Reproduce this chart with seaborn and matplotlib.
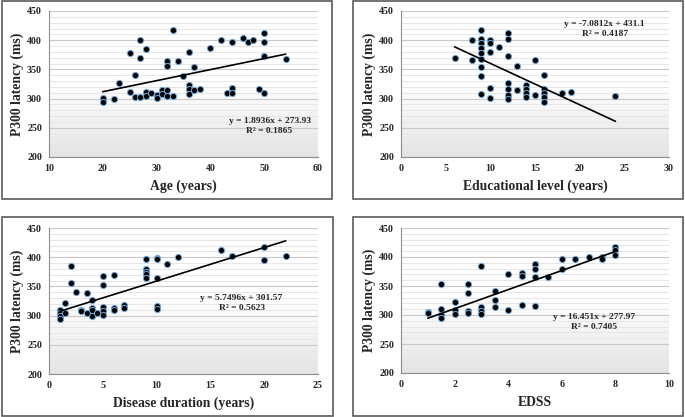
import numpy as np
import pandas as pd
import matplotlib
matplotlib.use('Agg')
import matplotlib.pyplot as plt
from matplotlib.colors import LinearSegmentedColormap
from matplotlib.patches import Rectangle
import seaborn as sns

# ── Data ────────────────────────────────────────────────────
age = [20, 20, 22, 23, 25, 25, 26, 26, 27, 27, 27, 28, 28, 28, 29, 30, 30, 31, 31,
       32, 32, 32, 32, 33, 33, 34, 35, 36, 36, 36, 36, 37, 37, 38, 40, 42, 43, 44,
       44, 44, 46, 47, 48, 49, 50, 50, 50, 50, 54]
p300_age = [301, 295, 299, 327, 378, 311, 341, 302, 400, 370, 302, 385, 311, 305, 310,
            306, 301, 314, 308, 365, 355, 314, 305, 417, 305, 365, 339, 379, 323, 316,
            308, 354, 314, 316, 387, 400, 310, 397, 319, 310, 403, 397, 401, 316, 413,
            397, 373, 310, 368]

edu = [6, 8, 8, 9, 9, 9, 9, 9, 9, 9, 9, 9, 10, 10, 10, 10, 10, 11, 12, 12, 12, 12, 12,
       12, 12, 13, 13, 14, 14, 14, 14, 15, 15, 16, 16, 16, 16, 16, 18, 19, 24]
p300_edu = [370, 400, 366, 417, 402, 396, 386, 378, 367, 354, 338, 308, 400, 396, 380,
            319, 301, 388, 413, 402, 373, 327, 317, 307, 299, 356, 314, 323, 317, 310,
            302, 366, 306, 341, 316, 310, 302, 295, 310, 312, 305]

dur = [1, 1, 1, 1, 1.5, 1.5, 2, 2, 2.5, 3, 3, 3.5, 3.5, 4, 4, 4, 4, 4.5, 5, 5, 5, 5, 5,
       6, 6, 6, 7, 7, 9, 9, 9, 9, 9, 10, 10, 10, 10, 10, 11, 12, 16, 17, 20, 20, 22]
p300_dur = [309, 304, 299, 294, 321, 304, 385, 355, 340, 310, 308, 338, 304, 326, 313,
            309, 299, 304, 367, 352, 315, 308, 301, 369, 313, 309, 318, 313, 397, 380,
            375, 371, 365, 399, 397, 365, 316, 312, 388, 400, 412, 402, 417, 396, 402]

edss = [1, 1, 1.5, 1.5, 1.5, 1.5, 2, 2, 2, 2.5, 2.5, 2.5, 2.5, 3, 3, 3, 3, 3.5, 3.5, 3.5,
        4, 4, 4.5, 4.5, 4.5, 5, 5, 5, 5, 5.5, 6, 6, 6.5, 7, 7.5, 7.5, 8, 8, 8]
p300_edss = [306, 303, 354, 311, 300, 294, 322, 309, 301, 353, 338, 307, 303, 385, 314,
             307, 302, 341, 326, 314, 370, 309, 373, 367, 318, 388, 379, 365, 315, 365,
             397, 379, 397, 400, 400, 396, 417, 412, 403]

# trendline coefficients as printed on the chart
slopes = [1.8936, -7.0812, 5.7496, 16.451]
intercepts = [273.93, 431.1, 301.57, 277.97]
r2_values = ['0.1865', '0.4187', '0.5623', '0.7405']
eq_texts = ['y = 1.8936x + 273.93', 'y = -7.0812x + 431.1',
            'y = 5.7496x + 301.57', 'y = 16.451x + 277.97']
x_labels = ['Age (years)', 'Educational level (years)',
            'Disease duration (years)', 'EDSS']
x_ticks = [np.arange(10, 61, 10), np.arange(0, 31, 5),
           np.arange(0, 26, 5), np.arange(0, 11, 2)]
y_ticks = np.arange(200, 451, 50)

# ── Style ───────────────────────────────────────────────────
sns.set_style('white')
plt.rcParams['font.family'] = ['Liberation Serif', 'DejaVu Serif']
plt.rcParams['font.weight'] = 'bold'

W, H = 685, 417
fig = plt.figure(figsize=(W / 100, H / 100), dpi=100)
fig.patch.set_facecolor('white')

# axes boxes in pixels: (left, right, top, bottom)
ax_px = [(49, 318, 11, 157), (401, 669, 11, 157),
         (49, 318, 228, 374), (401, 669, 228, 373)]
# outer panel frames in pixels
frame_px = [(2, 332, 1, 199), (353, 683, 1, 199),
            (2, 333, 217, 416), (353, 683, 217, 416)]
# text anchor (data coords)
eq_pos = [(51, 262, 244), (22.8, 427, 411), (17.9, 330, 313), (7.2, 296, 279)]

grad_cmap = LinearSegmentedColormap.from_list('bg', ['#ffffff', '#ffffff', '#e4e4e4'])

datasets = [(age, p300_age), (edu, p300_edu), (dur, p300_dur), (edss, p300_edss)]

for i, (xs, ys) in enumerate(datasets):
    l, r, t, b = ax_px[i]
    ax = fig.add_axes([l / W, 1 - b / H, (r - l) / W, (b - t) / H])
    df = pd.DataFrame({'x': xs, 'y': ys})

    xmin, xmax = x_ticks[i][0], x_ticks[i][-1]

    # gradient plot-area background
    grad = np.linspace(1, 0, 256).reshape(-1, 1)
    ax.imshow(grad, extent=[xmin, xmax, 200, 450], aspect='auto',
              cmap=grad_cmap, origin='lower', zorder=0)

    sns.scatterplot(data=df, x='x', y='y', ax=ax, s=20, color='black',
                    edgecolor='#6fa8dc', linewidth=0.7, zorder=3)

    # trendline over the data range
    xl = np.array([df['x'].min(), df['x'].max()])
    ax.plot(xl, slopes[i] * xl + intercepts[i], color='black', lw=1.2, zorder=4)

    ex, ey1, ey2 = eq_pos[i]
    ax.text(ex, ey1, eq_texts[i], ha='center', va='center', fontsize=6.8,
            fontweight='bold', zorder=5)
    ax.text(ex, ey2, 'R² = ' + r2_values[i], ha='center', va='center',
            fontsize=6.8, fontweight='bold', zorder=5)

    ax.set_xlim(xmin, xmax)
    ax.set_ylim(200, 450)
    ax.set_xticks(x_ticks[i])
    ax.set_yticks(y_ticks)
    ax.set_yticks(np.arange(200, 451, 10), minor=True)
    ax.grid(axis='y', which='major', color='#c8c8c8', lw=0.8)
    ax.grid(axis='y', which='minor', color='#e6e6e6', lw=0.7)
    ax.grid(axis='x', visible=False)
    ax.set_axisbelow(True)

    for side in ['top', 'right']:
        ax.spines[side].set_visible(False)
    for side in ['left', 'bottom']:
        ax.spines[side].set_color('#8c8c8c')
        ax.spines[side].set_linewidth(0.8)

    ax.tick_params(axis='both', which='major', labelsize=7.2, length=3,
                   color='#8c8c8c', pad=2)
    ax.tick_params(axis='y', which='minor', length=0)
    for lab in ax.get_xticklabels() + ax.get_yticklabels():
        lab.set_fontweight('bold')

    ax.set_xlabel(x_labels[i], fontsize=9.8, fontweight='bold', labelpad=5)
    ax.set_ylabel('P300 latency (ms)', fontsize=9.8, fontweight='bold', labelpad=2)

# outer frames
for (l, r, t, b) in frame_px:
    fig.patches.append(Rectangle((l / W, 1 - b / H), (r - l) / W, (b - t) / H,
                                 transform=fig.transFigure, fill=False,
                                 edgecolor='#5a5a5a', lw=1.2))

fig.savefig('out.png', dpi=100)
